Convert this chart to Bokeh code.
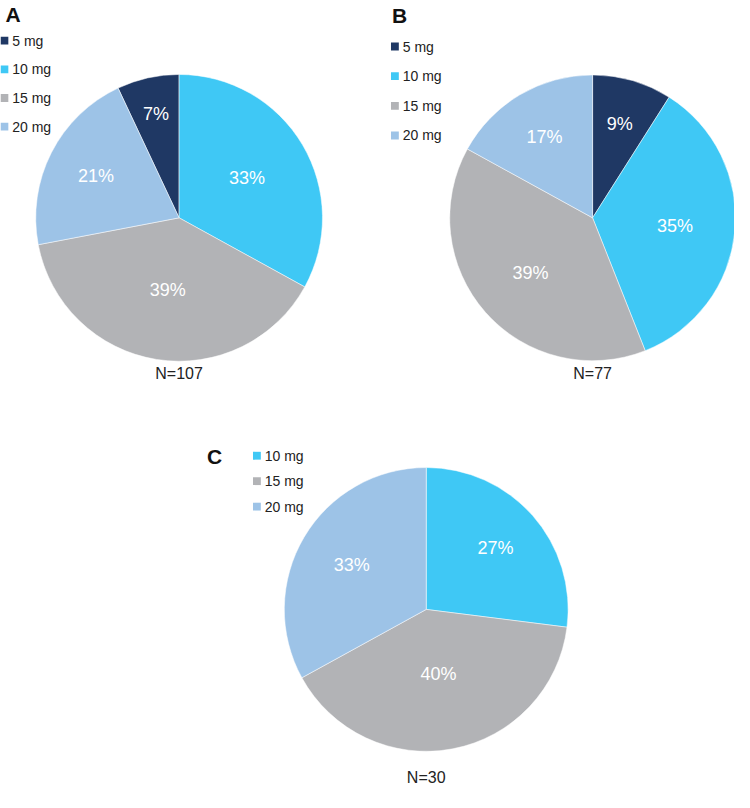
from bokeh.plotting import figure
from bokeh.models import Range1d, ColumnDataSource
from bokeh.core.properties import value
from bokeh.embed import file_html
from bokeh.resources import INLINE
import math

# ---------------- data ----------------
doses_A = ["5 mg", "10 mg", "15 mg", "20 mg"]
pct_A = [7, 33, 39, 21]
n_A = 107

doses_B = ["5 mg", "10 mg", "15 mg", "20 mg"]
pct_B = [9, 35, 39, 17]
n_B = 77

doses_C = ["10 mg", "15 mg", "20 mg"]
pct_C = [27, 40, 33]
n_C = 30

# ---------------- styles ----------------
COLORS = {"5 mg": "#1F3864", "10 mg": "#3FC8F5", "15 mg": "#B2B3B6", "20 mg": "#9DC3E7"}
FONT = "Liberation Sans"
W_REF, H_REF = 750, 808
PW = 734
PH = round(PW * H_REF / W_REF)

p = figure(width=PW, height=PH, output_backend="svg", toolbar_location=None,
           x_range=Range1d(0, W_REF), y_range=Range1d(0, H_REF),
           min_border=0, min_border_left=0, min_border_right=0,
           min_border_top=0, min_border_bottom=0)
p.axis.visible = False
p.grid.visible = False
p.outline_line_color = None
p.background_fill_color = "white"
p.border_fill_color = "white"


def Y(y):
    return H_REF - y


def pie(doses, pct, n, cx, cy, r, start_off, label_r, letter, letter_xy,
        leg_x, leg_y0, leg_dy, n_y):
    total = sum(pct)
    cum = start_off
    starts, ends, mids = [], [], []
    for v in pct:
        f0 = cum / total
        f1 = (cum + v) / total
        cum += v
        a0 = math.pi / 2 - 2 * math.pi * f0
        a1 = math.pi / 2 - 2 * math.pi * f1
        starts.append(a0)
        ends.append(a1)
        mids.append((a0 + a1) / 2)
    src = ColumnDataSource(dict(start=starts, end=ends,
                                color=[COLORS[d] for d in doses]))
    p.wedge(x=cx, y=Y(cy), radius=r, start_angle="end", end_angle="start",
            fill_color="color", line_color="white", line_width=0.5, source=src)
    lx = [cx + lr * r * math.cos(m) for lr, m in zip(label_r, mids)]
    ly = [Y(cy) + lr * r * math.sin(m) for lr, m in zip(label_r, mids)]
    p.text(x=lx, y=ly, text=[f"{v}%" for v in pct], text_color="white",
           text_font=value(FONT), text_font_size="18px",
           text_align="center", text_baseline="middle")
    # N label
    p.text(x=[cx], y=[Y(n_y)], text=[f"N={n}"], text_color="#222222",
           text_font=value(FONT), text_font_size="16px",
           text_align="center", text_baseline="middle")
    # panel letter
    p.text(x=[letter_xy[0]], y=[Y(letter_xy[1])], text=[letter], text_color="#111111",
           text_font=value(FONT), text_font_size="21px", text_font_style="bold",
           text_align="left", text_baseline="middle")
    # legend
    ys = [Y(leg_y0 + i * leg_dy) for i in range(len(doses))]
    p.rect(x=[leg_x + 4] * len(doses), y=ys, width=8, height=8,
           fill_color=[COLORS[d] for d in doses], line_color=None)
    p.text(x=[leg_x + 12] * len(doses), y=ys, text=doses, text_color="#222222",
           text_font=value(FONT), text_font_size="14px",
           text_align="left", text_baseline="middle")


pie(doses_A, pct_A, n_A, 182.5, 222, 146.5, -pct_A[0],
    [0.74, 0.55, 0.51, 0.65], "A", (5, 14), 0, 41, 29.3, 381)
pie(doses_B, pct_B, n_B, 605, 222, 146, 0,
    [0.68, 0.58, 0.58, 0.66], "B", (400, 15), 399, 47, 30.3, 381)
pie(doses_C, pct_C, n_C, 435, 622, 145, 0,
    [0.65, 0.46, 0.61], "C", (211, 466), 258, 465, 26, 794)

open("out.html", "w").write(file_html(p, INLINE))
